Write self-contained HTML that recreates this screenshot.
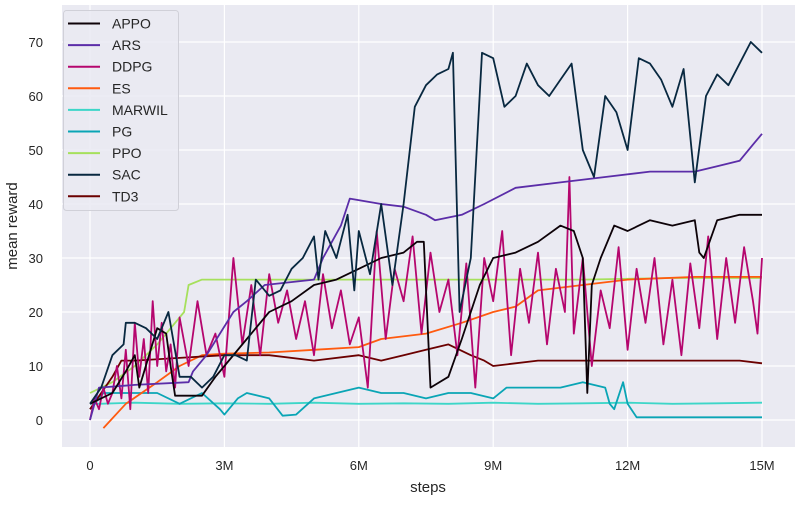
<!DOCTYPE html>
<html><head><meta charset="utf-8"><style>
body{margin:0;background:#fff;font-family:"Liberation Sans",sans-serif}
svg text{font-family:"Liberation Sans",sans-serif;fill:#262626}
</style></head><body>
<svg id="chart" width="800" height="500">
<rect x="62" y="5" width="733" height="442" fill="#eaeaf2"/>
<g id="grid"></g><g id="series"></g><g id="axes"></g><g id="legend"></g>
<text x="428" y="492" text-anchor="middle" font-size="15">steps</text>
<text transform="translate(17,226) rotate(-90)" text-anchor="middle" font-size="15">mean reward</text>
</svg>
<script>
const xTicks=[0,3,6,9,12,15];
const xTickLabels=["0","3M","6M","9M","12M","15M"];
const yTicks=[0,10,20,30,40,50,60,70];
const names=["APPO","ARS","DDPG","ES","MARWIL","PG","PPO","SAC","TD3"];
const colors=["#0d0208","#5b2da8","#b5066e","#ff5a0f","#3dd6c8","#0aa5b5","#a6e05c","#082840","#6b0000"];
const appoX=[0,0.5,0.8,1.0,1.1,1.5,1.7,1.8,1.9,2.2,2.5,2.8,3.0,3.5,4,4.5,5,5.5,6,6.5,7,7.3,7.45,7.6,8,8.3,8.7,9,9.5,10,10.5,10.8,11.0,11.1,11.2,11.4,11.7,12,12.5,13,13.5,13.6,13.7,14,14.5,15];
const appoY=[3,5,9,12,6,17,16,10,4.5,4.5,4.5,8,10,15,20,22,25,26,28,30,31,33,33,6,8,15,25,30,31,33,36,35,30,5,25,30,36,35,37,36,37,31,30,37,38,38];
const arsX=[0,0.2,1,2.2,2.3,2.6,3.2,3.5,3.9,5,5.2,5.6,5.8,6.5,7,7.5,7.7,8.3,8.8,9.5,10.5,11.5,12.5,13.5,14,14.5,14.8,15];
const arsY=[0,6,6.5,7,9,12,20,22,25,26,30,36,41,40,39.5,38,37,38,40,43,44,45,46,46,47,48,51,53];
const ddpgX=[0,0.1,0.2,0.3,0.4,0.5,0.6,0.7,0.8,0.9,1,1.1,1.2,1.3,1.4,1.5,1.6,1.7,1.8,1.9,2,2.2,2.4,2.6,2.8,3,3.2,3.4,3.6,3.8,4,4.2,4.4,4.6,4.8,5,5.2,5.4,5.6,5.8,6,6.2,6.4,6.6,6.8,7,7.2,7.4,7.6,7.8,8,8.2,8.4,8.6,8.8,9,9.2,9.4,9.6,9.8,10,10.2,10.4,10.6,10.7,10.8,11,11.2,11.4,11.6,11.8,12,12.2,12.4,12.6,12.8,13,13.2,13.4,13.6,13.8,14,14.2,14.4,14.6,14.8,14.9,15];
const ddpgY=[0,4,2,6,3,5,10,4,13,2,18,8,15,5,22,10,18,9,14,6,19,10,22,12,16,8,30,14,25,12,27,18,24,15,22,12,27,17,24,14,19,6,35,15,28,22,34,16,31,20,26,12,29,6,30,22,35,12,28,18,31,14,28,20,45,16,30,10,24,17,32,13,28,18,30,14,26,12,29,17,34,15,30,18,32,22,16,30];
const esX=[0.3,0.8,1.5,2,2.5,3,4,5,6,6.5,7.5,8.3,9,9.5,10,11,12,13.5,15];
const esY=[-1.5,3,7,10,12,12.3,12.5,13,13.5,15,16,18,20,21,24,25,26,26.5,26.5];
const marX=[0,0.2,1,2,3,4,5,6,7,8,9,10,11,12,13,14,15];
const marY=[3,3,3.2,3,3.1,3,3.2,3,3.1,3,3.2,3,3.1,3.2,3,3.1,3.2];
const pgX=[0,0.3,1,1.5,2,2.5,2.9,3.0,3.3,3.5,4,4.3,4.6,5,5.5,6,6.5,7,7.5,8,8.5,9,9.3,9.5,10,10.5,11,11.5,11.6,11.7,11.9,12,12.2,13,14,15];
const pgY=[2,5,5,5,3,5,2,1,4,5,4,0.8,1,4,5,6,5,5,4,5,5,4,6,6,6,6,7,6,3,2,7,3,0.5,0.5,0.5,0.5];
const ppoX=[0,0.5,1,1.5,2,2.1,2.2,2.5,3,5,7,9,11,13,15];
const ppoY=[5,7,10,14,19,20,25,26,26,26,26,26,26,26.3,26.3];
const sacX=[0,0.25,0.5,0.75,0.8,1,1.25,1.5,1.75,2,2.25,2.5,2.75,3,3.25,3.5,3.7,4,4.25,4.5,4.75,5,5.1,5.25,5.5,5.75,5.9,6,6.25,6.5,6.75,7,7.25,7.5,7.75,8,8.1,8.25,8.5,8.75,9,9.25,9.5,9.75,10,10.25,10.5,10.75,11,11.25,11.5,11.75,12,12.25,12.5,12.75,13,13.25,13.5,13.75,14,14.25,14.5,14.75,15];
const sacY=[3,6,12,14,18,18,17,15,20,8,8,6,8,12,12,11,26,23,24,28,30,34,26,35,30,38,24,35,27,40,25,40,58,62,64,65,68,20,30,68,67,58,60,66,62,60,63,66,50,45,60,57,50,67,66,63,58,65,44,60,64,62,66,70,68];
const td3X=[0,0.5,0.7,1,2,3,4,5,6,6.5,7,7.5,8,8.5,8.8,9,10,11,12,13,14,14.5,15];
const td3Y=[2,8,11,11,11.5,12,12,11,12,11,12,13,14,12,11,10,11,11,11,11,11,11,10.5];
const seriesX=[appoX,arsX,ddpgX,esX,marX,pgX,ppoX,sacX,td3X];
const seriesY=[appoY,arsY,ddpgY,esY,marY,pgY,ppoY,sacY,td3Y];
const drawOrder=[4,5,6,3,8,2,1,0,7];
const NS="http://www.w3.org/2000/svg";
const L=62,R=795,T=5,B=447;
function sx(v){return 90+v*44.8;}
function sy(v){return 420-v*5.4;}
function mk(t,a,p){const e=document.createElementNS(NS,t);for(const k in a)e.setAttribute(k,a[k]);p.appendChild(e);return e;}
const grid=document.getElementById('grid'),axes=document.getElementById('axes');
xTicks.forEach((t,i)=>{
 const g=mk('line',{x1:sx(t),x2:sx(t),y1:T,y2:B,stroke:'#fff','stroke-width':1.2},grid);
 
 
 const tx=mk('text',{x:sx(t),y:470,'text-anchor':'middle','font-size':13},axes);
 tx.textContent=xTickLabels[i];
 
 
});
yTicks.forEach(t=>{
 const g=mk('line',{x1:L,x2:R,y1:sy(t),y2:sy(t),stroke:'#fff','stroke-width':1.2},grid);
 
 
 const tx=mk('text',{x:43,y:sy(t)+5,'text-anchor':'end','font-size':13},axes);
 tx.textContent=t;
 
 
});
const sg=document.getElementById('series');
drawOrder.forEach(i=>{
 const pts=seriesX[i].map((x,j)=>sx(x).toFixed(1)+','+sy(seriesY[i][j]).toFixed(1)).join(' ');
 const p=mk('polyline',{points:pts,fill:'none',stroke:colors[i],'stroke-width':1.8,'stroke-linejoin':'round'},sg);
 
 
});
const lg=document.getElementById('legend');
const box=mk('rect',{x:63.5,y:10.5,width:115,height:200,rx:3,fill:'#eaeaf2',stroke:'#d0d0d8','fill-opacity':0.85},lg);


names.forEach((n,i)=>{
 const y=23.5+i*21.6;
 const ln=mk('line',{x1:68,x2:100,y1:y,y2:y,stroke:colors[i],'stroke-width':2},lg);
 
 
 const tx=mk('text',{x:112,y:y+5,'font-size':14},lg);
 tx.textContent=n;
 
 
});
</script>
</body></html>
